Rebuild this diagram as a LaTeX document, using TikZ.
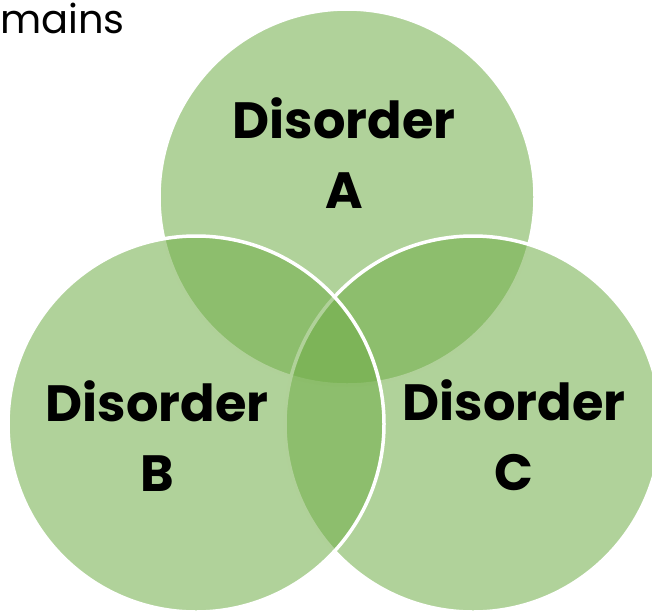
\documentclass[tikz,border=0pt]{standalone}
\usepackage{fontspec}
\setmainfont{Poppins}
\usetikzlibrary{positioning}
\definecolor{venngreen}{RGB}{112, 173, 71}
\tikzset{
    setnode/.style = {draw=white, circle, line width=3.5pt, fill=venngreen, fill opacity=0.55,
      minimum size=376pt, inner sep=0pt},
    labelnode/.style = {draw=none, fill=none, rectangle, inner sep=0pt, align=center,
      font=\fontsize{51}{70}\selectfont\bfseries, text=black},
    titlenode/.style = {draw=none, fill=none, inner sep=0pt, anchor=base west,
      font=\fontsize{40}{46}\selectfont}
}

\begin{document}
\begin{tikzpicture}[x=1pt, y=1pt]
\useasboundingbox (0,0) rectangle (652,-614);

\node[titlenode, name=title] at (0,-33) {mains};

\node[setnode, name=circA] at (347,-197) {};
\node[setnode, name=circC] at (473,-424) {};
\node[setnode, name=circB] at (196,-424) {};

\node[labelnode, name=labA] at (344,-153) {Disorder\\A};
\node[labelnode, name=labB] at (157,-436) {Disorder\\B};
\node[labelnode, name=labC] at (514,-435) {Disorder\\C};
\end{tikzpicture}
\end{document}
